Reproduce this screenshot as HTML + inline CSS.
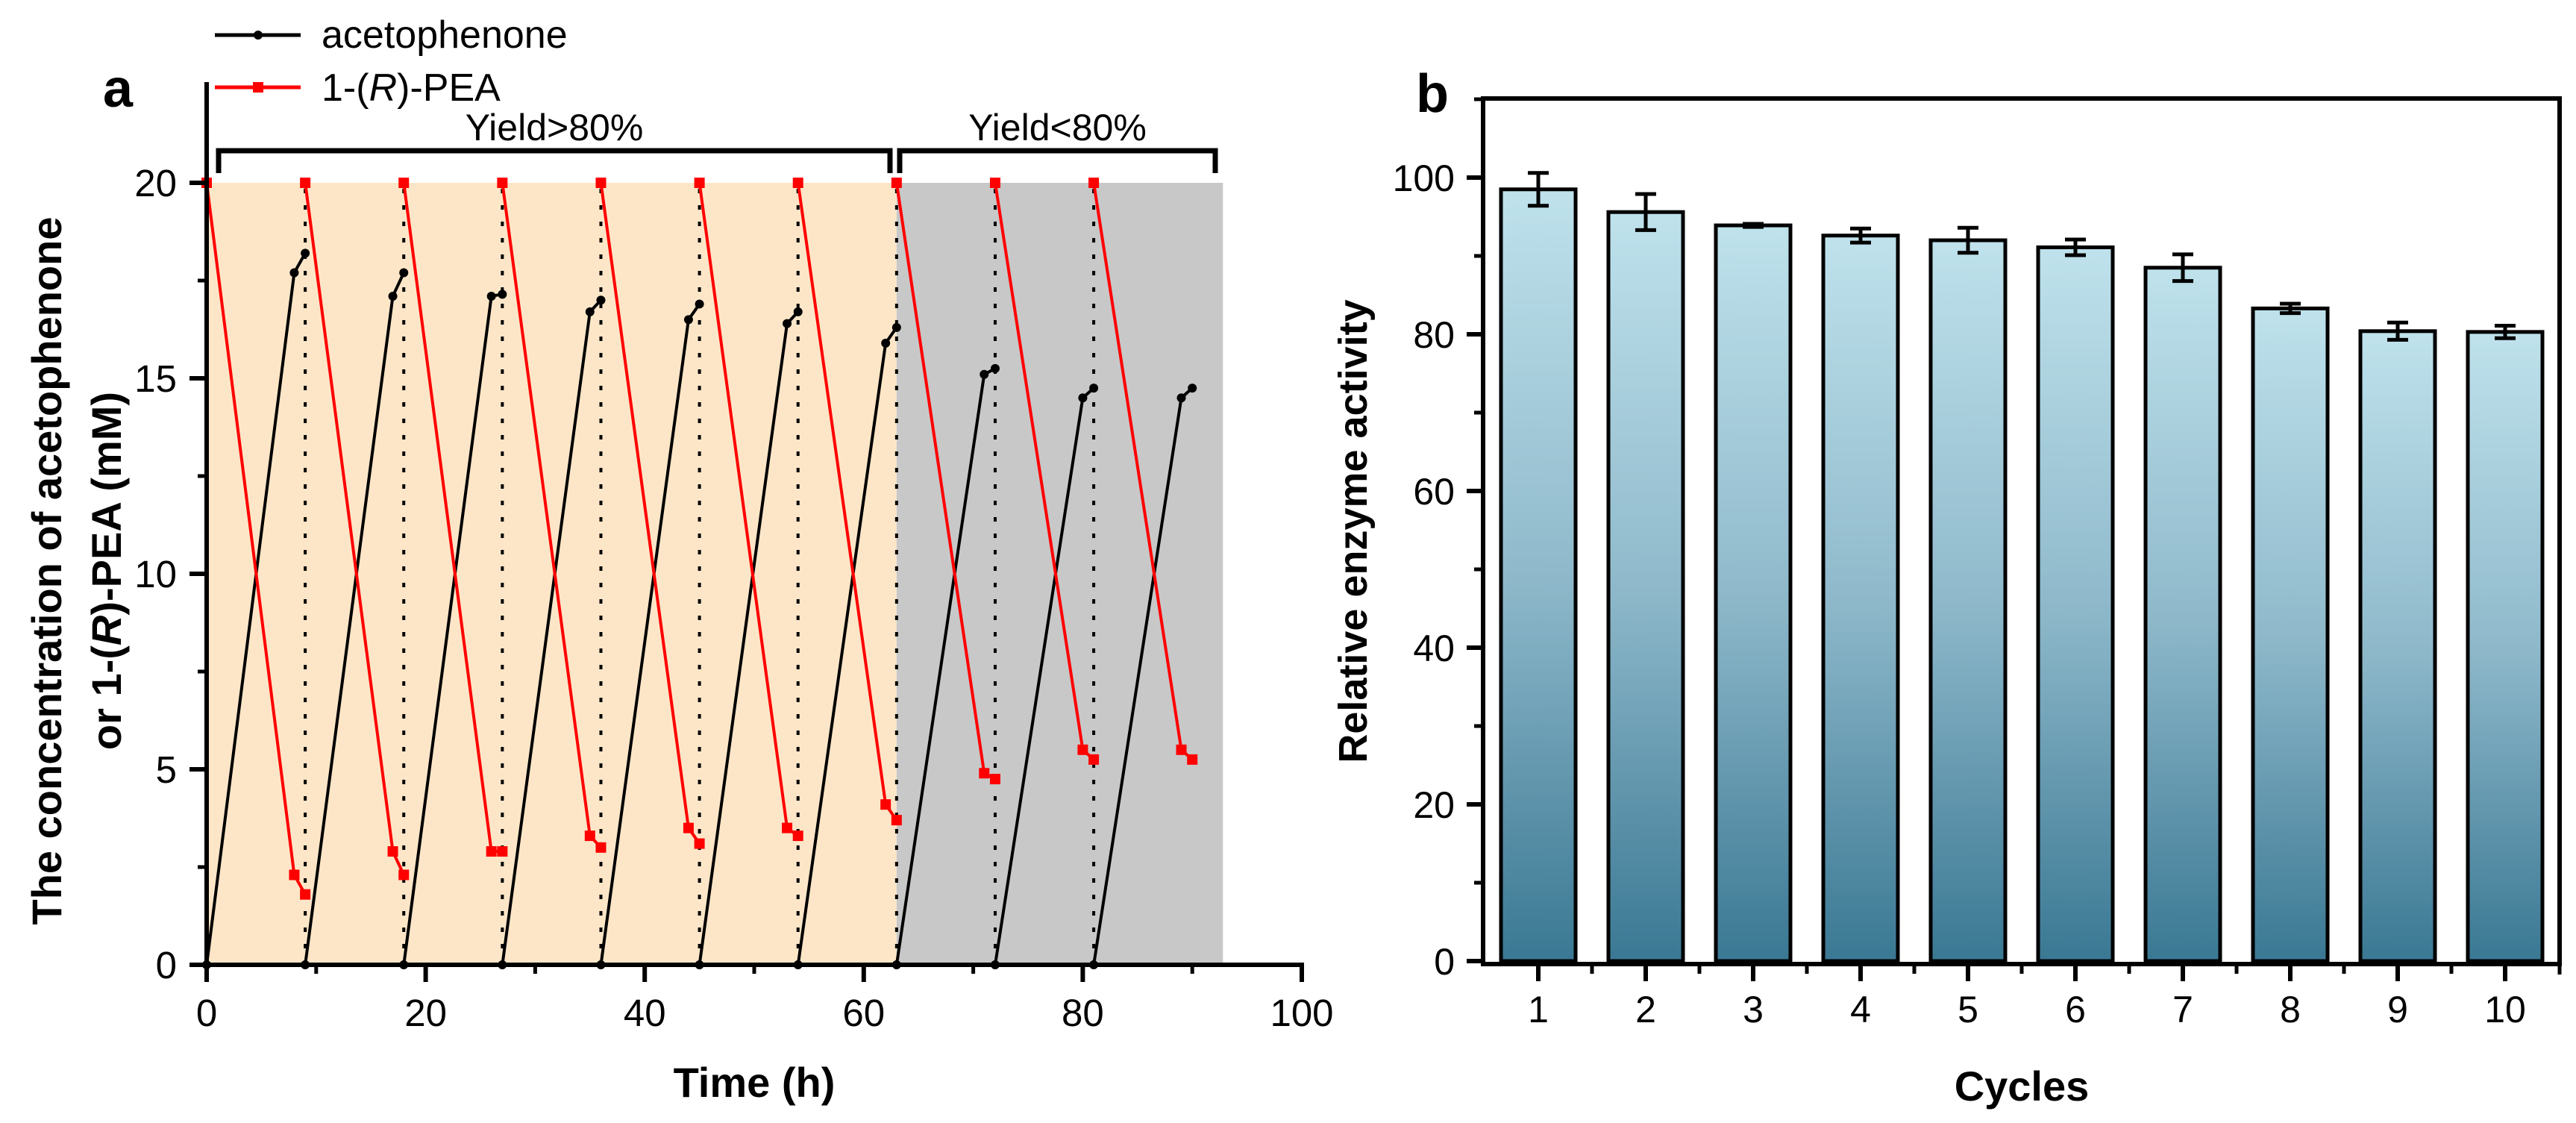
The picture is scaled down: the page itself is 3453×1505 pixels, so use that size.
<!DOCTYPE html>
<html><head><meta charset="utf-8"><style>
html,body{margin:0;padding:0;background:#fff;}
svg{display:block;font-family:"Liberation Sans",Arial,sans-serif;}
</style></head><body>
<svg id="fig" width="3453" height="1505" viewBox="0 0 3453 1505" xmlns="http://www.w3.org/2000/svg">
<defs>
<linearGradient id="barGrad" x1="0" y1="0" x2="0" y2="1">
<stop offset="0" stop-color="#bfe2ec"/>
<stop offset="0.5" stop-color="#8fb9cb"/>
<stop offset="1" stop-color="#3a7893"/>
</linearGradient>
</defs>
<g id="chartA"></g>
<g id="chartB"></g>
</svg>
<script>
// ---- Chart A data ----
const cycleStarts = [0, 9, 18, 27, 36, 45, 54, 63, 72, 81];
const acetoMid = [17.7, 17.1, 17.1, 16.7, 16.5, 16.4, 15.9, 15.1, 14.5, 14.5];
const acetoEnd = [18.2, 17.7, 17.15, 17.0, 16.9, 16.7, 16.3, 15.25, 14.75, 14.75];
const peaMid = [2.3, 2.9, 2.9, 3.3, 3.5, 3.5, 4.1, 4.9, 5.5, 5.5];
const peaEnd = [1.8, 2.3, 2.9, 3.0, 3.1, 3.3, 3.7, 4.75, 5.25, 5.25];
const dividerTimes = [9, 18, 27, 36, 45, 54, 63, 72, 81];
const xTicksA = [0, 20, 40, 60, 80, 100];
const yTicksA = [0, 5, 10, 15, 20];
const regionHigh = [0, 63];
const regionLow = [63, 92.8];
// ---- Chart B data ----
const cycles = ["1","2","3","4","5","6","7","8","9","10"];
const activity = [98.5, 95.6, 93.9, 92.6, 92.0, 91.1, 88.5, 83.3, 80.4, 80.3];
const activityErr = [2.1, 2.3, 0.2, 0.9, 1.6, 1.0, 1.7, 0.6, 1.1, 0.8];
const yTicksB = [0, 20, 40, 60, 80, 100];

const NS = "http://www.w3.org/2000/svg";
function mk(parent, tag, attrs, text){
  const e = document.createElementNS(NS, tag);
  for (const k in attrs) e.setAttribute(k, attrs[k]);
  if (text !== undefined) e.textContent = text;
  parent.appendChild(e);
  return e;
}
// ===== Chart A =====
const A = document.getElementById('chartA');
const ax = t => 277 + t * 14.68;
const ay = v => 1293 - v * 52.4;

let r;
r = mk(A, 'rect', {x: ax(regionHigh[0]), y: ay(20), width: ax(regionHigh[1]) - ax(regionHigh[0]), height: ay(0) - ay(20), fill: '#fde6c8'});


r = mk(A, 'rect', {x: ax(regionLow[0]), y: ay(20), width: ax(regionLow[1]) - ax(regionLow[0]), height: ay(0) - ay(20), fill: '#c8c8c8'});



dividerTimes.forEach(t => {
  const l = mk(A, 'line', {x1: ax(t), x2: ax(t), y1: ay(0), y2: ay(20), stroke: '#000', 'stroke-width': 4, 'stroke-dasharray': '6,16'});
  
  
});

cycleStarts.forEach((s, i) => {
  const bp = [[s, 0], [s + 8, acetoMid[i]], [s + 9, acetoEnd[i]]];
  const pl = mk(A, 'polyline', {points: bp.map(p => ax(p[0]) + ',' + ay(p[1])).join(' '), fill: 'none', stroke: '#000', 'stroke-width': 4});
  
  
  bp.forEach(p => {
    const c = mk(A, 'circle', {cx: ax(p[0]), cy: ay(p[1]), r: 6, fill: '#000'});
    
    
  });
  const rp = [[s, 20], [s + 8, peaMid[i]], [s + 9, peaEnd[i]]];
  const pr = mk(A, 'polyline', {points: rp.map(p => ax(p[0]) + ',' + ay(p[1])).join(' '), fill: 'none', stroke: '#ff0000', 'stroke-width': 4});
  
  
  rp.forEach(p => {
    const q = mk(A, 'rect', {x: ax(p[0]) - 7, y: ay(p[1]) - 7, width: 14, height: 14, fill: '#ff0000'});
    
    
  });
});

// axes
let e;
e = mk(A, 'line', {x1: 277, x2: 277, y1: 110, y2: 1296, stroke: '#000', 'stroke-width': 6});


e = mk(A, 'line', {x1: 255, x2: ax(100) + 3, y1: 1293, y2: 1293, stroke: '#000', 'stroke-width': 6});


for (let v = 2.5; v <= 20; v += 5) {
  mk(A, 'line', {x1: 265, x2: 277, y1: ay(v), y2: ay(v), stroke: '#000', 'stroke-width': 5});
}
yTicksA.forEach(v => {
  mk(A, 'line', {x1: 254, x2: 277, y1: ay(v), y2: ay(v), stroke: '#000', 'stroke-width': 6});
  const t = mk(A, 'text', {x: 237, y: ay(v) + 18, 'text-anchor': 'end', 'font-size': 51}, String(v));
  
  
});
for (let v = 10; v < 100; v += 20) {
  mk(A, 'line', {x1: ax(v), x2: ax(v), y1: 1293, y2: 1305, stroke: '#000', 'stroke-width': 5});
}
xTicksA.forEach(v => {
  mk(A, 'line', {x1: ax(v), x2: ax(v), y1: 1293, y2: 1316, stroke: '#000', 'stroke-width': 6});
  const t = mk(A, 'text', {x: ax(v), y: 1375, 'text-anchor': 'middle', 'font-size': 51}, String(v));
  
  
});

// brackets
function bracket(x1, x2, label, name){
  const p = mk(A, 'path', {d: `M${x1},232 L${x1},202 L${x2},202 L${x2},232`, fill: 'none', stroke: '#000', 'stroke-width': 7});
  
  
  const t = mk(A, 'text', {x: (x1 + x2) / 2, y: 188, 'text-anchor': 'middle', 'font-size': 50}, label);
  
  
}
bracket(293, 1193, 'Yield>80%', 'yield-high-bracket');
bracket(1206, 1629, 'Yield<80%', 'yield-low-bracket');
</script>
<script>
// titles / legend chart A
(function(){
const A = document.getElementById('chartA');
function mk(parent, tag, attrs, text){
  const e = document.createElementNS("http://www.w3.org/2000/svg", tag);
  for (const k in attrs) e.setAttribute(k, attrs[k]);
  if (text !== undefined) e.textContent = text;
  parent.appendChild(e); return e;
}
let t = mk(A, 'text', {x: 1011, y: 1470, 'text-anchor': 'middle', 'font-size': 56, 'font-weight': 'bold'}, 'Time (h)');


t = mk(A, 'text', {x: 0, y: 0, 'text-anchor': 'middle', 'font-size': 56, 'font-weight': 'bold', transform: 'translate(82,765) rotate(-90)'}, 'The concentration of acetophenone');


t = mk(A, 'text', {x: 0, y: 0, 'text-anchor': 'middle', 'font-size': 56, 'font-weight': 'bold', transform: 'translate(162,765) rotate(-90)'});
t.innerHTML = 'or 1-(<tspan font-style="italic">R</tspan>)-PEA (mM)';


t = mk(A, 'text', {x: 138, y: 143, 'font-size': 72, 'font-weight': 'bold'}, 'a');


// legend
const g = mk(A, 'g', {});


mk(g, 'line', {x1: 288, x2: 403, y1: 47, y2: 47, stroke: '#000', 'stroke-width': 5});
mk(g, 'circle', {cx: 346, cy: 47, r: 6, fill: '#000'});
let l = mk(g, 'text', {x: 431, y: 64, 'font-size': 52}, 'acetophenone');


mk(g, 'line', {x1: 288, x2: 403, y1: 117, y2: 117, stroke: '#ff0000', 'stroke-width': 5});
mk(g, 'rect', {x: 339, y: 110, width: 14, height: 14, fill: '#ff0000'});
l = mk(g, 'text', {x: 431, y: 135, 'font-size': 52});
l.innerHTML = '1-(<tspan font-style="italic">R</tspan>)-PEA';


})();
</script>
<script>
// ===== Chart B =====
(function(){
const B = document.getElementById('chartB');
function mk(parent, tag, attrs, text){
  const e = document.createElementNS("http://www.w3.org/2000/svg", tag);
  for (const k in attrs) e.setAttribute(k, attrs[k]);
  if (text !== undefined) e.textContent = text;
  parent.appendChild(e); return e;
}
const bx = i => 2062 + i * 144;
const by = v => 1288 - v * 10.5;
const bw = 100;
activity.forEach((v, i) => {
  const r = mk(B, 'rect', {x: bx(i) - bw / 2, y: by(v), width: bw, height: by(0) - by(v), fill: 'url(#barGrad)', stroke: '#000', 'stroke-width': 5});
  
  
  const e = activityErr[i];
  const eb = mk(B, 'path', {d: `M${bx(i)},${by(v + e)} L${bx(i)},${by(v - e)} M${bx(i) - 14},${by(v + e)} L${bx(i) + 14},${by(v + e)} M${bx(i) - 14},${by(v - e)} L${bx(i) + 14},${by(v - e)}`, stroke: '#000', 'stroke-width': 5, fill: 'none'});
  
  
  mk(B, 'line', {x1: bx(i), x2: bx(i), y1: 1292, y2: 1315, stroke: '#000', 'stroke-width': 6});
  const t = mk(B, 'text', {x: bx(i), y: 1370, 'text-anchor': 'middle', 'font-size': 50}, cycles[i]);
  
  
  if (i < activity.length - 1) mk(B, 'line', {x1: bx(i) + 72, x2: bx(i) + 72, y1: 1292, y2: 1305, stroke: '#000', 'stroke-width': 5});
});
const box = mk(B, 'rect', {x: 1988, y: 132, width: 3431 - 1988, height: 1292 - 132, fill: 'none', stroke: '#000', 'stroke-width': 6});


mk(B, 'line', {x1: 3431, x2: 3431, y1: 1292, y2: 1306, stroke: '#000', 'stroke-width': 5});
yTicksB.forEach(v => {
  mk(B, 'line', {x1: 1966, x2: 1988, y1: by(v), y2: by(v), stroke: '#000', 'stroke-width': 6});
  mk(B, 'line', {x1: 1976, x2: 1988, y1: by(v + 10), y2: by(v + 10), stroke: '#000', 'stroke-width': 5});
  const t = mk(B, 'text', {x: 1950, y: by(v) + 18, 'text-anchor': 'end', 'font-size': 50}, String(v));
  
  
});
let t = mk(B, 'text', {x: 2710, y: 1475, 'text-anchor': 'middle', 'font-size': 56, 'font-weight': 'bold'}, 'Cycles');


t = mk(B, 'text', {x: 0, y: 0, 'text-anchor': 'middle', 'font-size': 54, 'font-weight': 'bold', transform: 'translate(1832,712) rotate(-90)'}, 'Relative enzyme activity');


t = mk(B, 'text', {x: 1898, y: 150, 'font-size': 72, 'font-weight': 'bold'}, 'b');


})();
</script>
</body></html>
